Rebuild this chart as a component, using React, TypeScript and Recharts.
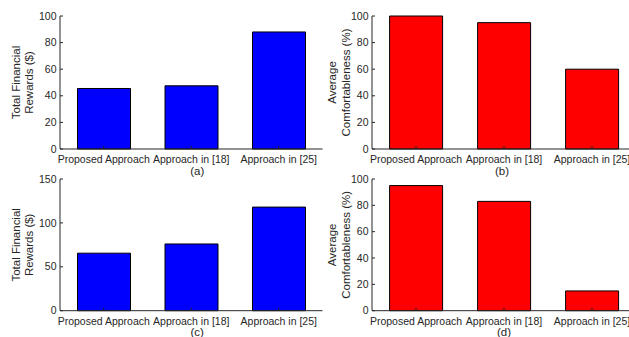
import React from 'react';
import { BarChart, Bar, XAxis, YAxis } from 'recharts';

const categories = ['Proposed Approach', 'Approach in [18]', 'Approach in [25]'];
const rewardsA = [45.5, 47.5, 88];
const comfortB = [100, 95, 60];
const rewardsC = [65.5, 76, 118];
const comfortD = [95, 83, 15];
const ticks100 = [0, 20, 40, 60, 80, 100];
const ticks150 = [0, 50, 100, 150];

const AX = '#262626';
const TXT = '#262626';
const FONT = '"Liberation Sans", Arial, Helvetica, sans-serif';
const TICK_FS = 10.5;
const LABEL_FS = 11.5;

const BottomTick = (p: any) => (
  <g>
    <line x1={p.x} x2={p.x} y1={p.y} y2={p.y - 3} stroke={AX} strokeWidth={1} />
    <text x={p.x} y={p.y + 14} textAnchor="middle" fontSize={TICK_FS} fill={TXT} fontFamily={FONT}>
      {p.payload.value}
    </text>
  </g>
);

const TopTick = (p: any) => (
  <line x1={p.x} x2={p.x} y1={p.y} y2={p.y + 3} stroke={AX} strokeWidth={1} />
);

const LeftTick = (p: any) => (
  <g>
    <line x1={p.x} x2={p.x + 3} y1={p.y} y2={p.y} stroke={AX} strokeWidth={1} />
    <text x={p.x - 3.5} y={p.y} dy="0.35em" textAnchor="end" fontSize={TICK_FS} fill={TXT} fontFamily={FONT}>
      {p.payload.value}
    </text>
  </g>
);

const RightTick = (p: any) => (
  <line x1={p.x - 3} x2={p.x} y1={p.y} y2={p.y} stroke={AX} strokeWidth={1} />
);

type PanelProps = {
  left: number;
  top: number;
  plotWidth: number;
  plotHeight: number;
  values: number[];
  color: string;
  yTicks: number[];
  labelLines: string[];
  labelOffsets: number[];
  caption: string;
  captionDx: number;
};

function Panel(props: PanelProps) {
  const { left, top, plotWidth, plotHeight, values, color, yTicks, labelLines, labelOffsets, caption, captionDx } = props;
  const data = categories.map((name, i) => ({ name, value: values[i] }));
  const width = 60 + plotWidth + 6;
  const height = 16 + plotHeight + 30;
  const yMax = yTicks[yTicks.length - 1];

  const captionContent = (lp: any) => {
    const vb = lp.viewBox || {};
    const cx = vb.x + vb.width / 2 + captionDx;
    return (
      <text x={cx} y={vb.y + 25.5} textAnchor="middle" fontSize={LABEL_FS} fill={TXT} fontFamily={FONT}>
        {caption}
      </text>
    );
  };

  const yLabelContent = (lp: any) => {
    const vb = lp.viewBox || {};
    const cy = vb.y + vb.height / 2;
    return (
      <g>
        {labelLines.map((line, i) => (
          <text
            key={i}
            x={labelOffsets[i]}
            y={cy}
            textAnchor="middle"
            fontSize={LABEL_FS}
            fill={TXT}
            fontFamily={FONT}
            transform={`rotate(-90, ${labelOffsets[i]}, ${cy})`}
          >
            {line}
          </text>
        ))}
      </g>
    );
  };

  return (
    <div style={{ position: 'absolute', left, top }}>
      <BarChart
        width={width}
        height={height}
        data={data}
        margin={{ top: 16, right: 6, bottom: 0, left: 0 }}
        barCategoryGap="20%"
      >
        <XAxis
          dataKey="name"
          interval={0}
          height={30}
          tickSize={0}
          tickMargin={0}
          tickLine={false}
          axisLine={{ stroke: AX, strokeWidth: 1 }}
          tick={BottomTick}
          label={{ content: captionContent }}
        />
        <XAxis
          xAxisId="top"
          dataKey="name"
          orientation="top"
          interval={0}
          height={0}
          tickSize={0}
          tickMargin={0}
          tickLine={false}
          axisLine={{ stroke: AX, strokeWidth: 1 }}
          tick={TopTick}
        />
        <YAxis
          type="number"
          domain={[0, yMax]}
          ticks={yTicks}
          width={60}
          tickSize={0}
          tickMargin={0}
          tickLine={false}
          axisLine={{ stroke: AX, strokeWidth: 1 }}
          tick={LeftTick}
          label={{ content: yLabelContent }}
        />
        <YAxis
          yAxisId="right"
          orientation="right"
          type="number"
          domain={[0, yMax]}
          ticks={yTicks}
          width={0}
          tickSize={0}
          tickMargin={0}
          tickLine={false}
          axisLine={{ stroke: AX, strokeWidth: 1 }}
          tick={RightTick}
        />
        <Bar dataKey="value" fill={color} stroke="#000000" strokeWidth={1} isAnimationActive={false} />
      </BarChart>
    </div>
  );
}

export default function App() {
  return (
    <div
      style={{
        position: 'absolute',
        left: 0,
        top: 0,
        width: 629,
        height: 337,
        overflow: 'hidden',
        background: '#ffffff',
      }}
    >
      <Panel
        left={0}
        top={0}
        plotWidth={262.5}
        plotHeight={133}
        values={rewardsA}
        color="#0000FF"
        yTicks={ticks100}
        labelLines={['Total Financial', 'Rewards ($)']}
        labelOffsets={[20, 33]}
        caption="(a)"
        captionDx={6}
      />
      <Panel
        left={312}
        top={0}
        plotWidth={264}
        plotHeight={133}
        values={comfortB}
        color="#FF0000"
        yTicks={ticks100}
        labelLines={['Average', 'Comfortableness (%)']}
        labelOffsets={[23.5, 37.5]}
        caption="(b)"
        captionDx={-2}
      />
      <Panel
        left={0}
        top={163}
        plotWidth={262.5}
        plotHeight={131.7}
        values={rewardsC}
        color="#0000FF"
        yTicks={ticks150}
        labelLines={['Total Financial', 'Rewards ($)']}
        labelOffsets={[20, 33]}
        caption="(c)"
        captionDx={6}
      />
      <Panel
        left={312}
        top={163}
        plotWidth={264}
        plotHeight={131.7}
        values={comfortD}
        color="#FF0000"
        yTicks={ticks100}
        labelLines={['Average', 'Comfortableness (%)']}
        labelOffsets={[23.5, 37.5]}
        caption="(d)"
        captionDx={0}
      />
    </div>
  );
}
